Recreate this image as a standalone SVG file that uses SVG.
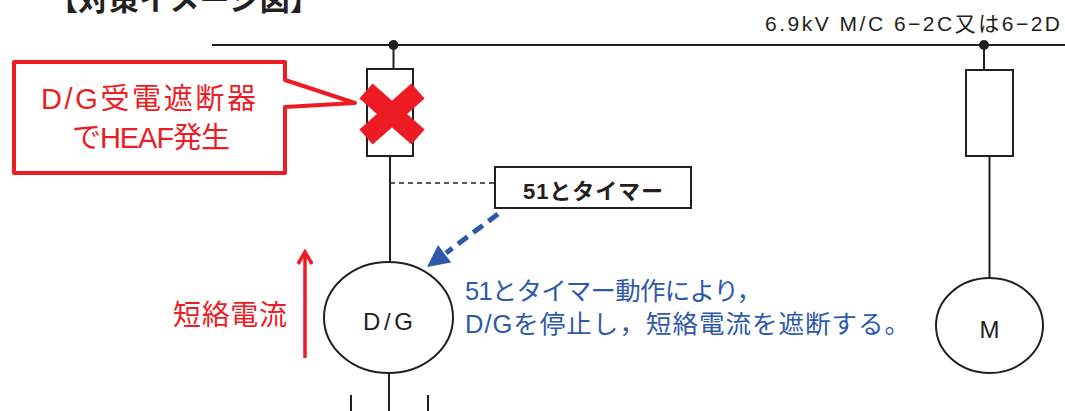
<svg xmlns="http://www.w3.org/2000/svg" width="1065" height="411" viewBox="0 0 1065 411">
<style>
.ln{stroke:#231f20;stroke-width:2;fill:none}
.box{stroke:#231f20;stroke-width:2;fill:#fff}
.t{font-family:"Liberation Sans","Noto Sans CJK JP",sans-serif}
.k{fill:#231f20}
.r{fill:#ed1c24}
.b{fill:#2e59a8}
</style>
<rect width="1065" height="411" fill="#fff"/>
<g id="title">
<text class="t k" x="48" y="10" font-size="30" font-weight="bold" textLength="272">【対策イメージ図】</text>
</g>
<g id="bus">
<line class="ln" x1="212" y1="45" x2="1065" y2="45"/>
<text class="t k" x="765" y="31" font-size="21" textLength="295">6.9kV M/C 6−2C又は6−2D</text>
</g>
<g id="connectors">
<circle cx="393.5" cy="45" r="5" fill="#231f20"/>
<circle cx="984" cy="45" r="5" fill="#231f20"/>
<line class="ln" x1="393.5" y1="45" x2="393.5" y2="70" stroke-width="2.5"/>
<line class="ln" x1="390" y1="156" x2="390" y2="262"/>
<line class="ln" x1="389" y1="373" x2="389" y2="411"/>
<line class="ln" x1="351" y1="395" x2="351" y2="411"/>
<line class="ln" x1="428" y1="395" x2="428" y2="411"/>
<line class="ln" x1="984" y1="45" x2="984" y2="70" stroke-width="2.5"/>
<line class="ln" x1="989.5" y1="156" x2="989.5" y2="278"/>
<line x1="390" y1="183" x2="495" y2="183" stroke="#231f20" stroke-width="1.5" stroke-dasharray="5,4"/>
<line x1="498" y1="214" x2="446" y2="253" stroke="#2e59a8" stroke-width="5" stroke-dasharray="12,7"/>
<polygon points="427,267 438,245 451.2,262.6" fill="#2e59a8"/>
<line x1="305" y1="358" x2="305" y2="253" stroke="#ed1c24" stroke-width="3.5"/>
<polyline points="298,264 305,252 312,264" fill="none" stroke="#ed1c24" stroke-width="3.5"/>
</g>
<g id="breaker-dg">
<rect class="box" x="367" y="69" width="46" height="87"/>
<line x1="366" y1="91" x2="418" y2="137" stroke="#ed1c24" stroke-width="20"/>
<line x1="418" y1="91" x2="366" y2="137" stroke="#ed1c24" stroke-width="20"/>
</g>
<g id="callout">
<path d="M14,62 H285 V80 L355,103 L285,107 V173 H14 Z" fill="#fff" stroke="#ed1c24" stroke-width="4" stroke-linejoin="round"/>
<text class="t r" x="41" y="109" font-size="29" textLength="215">D/G受電遮断器</text>
<text class="t r" x="72" y="148" font-size="29" textLength="158">でHEAF発生</text>
</g>
<g id="timer">
<rect class="box" x="495" y="167" width="196" height="41" stroke-width="1.5"/>
<text class="t k" x="523" y="199" font-size="22" font-weight="bold" textLength="140">51とタイマー</text>
</g>
<g id="dg">
<ellipse class="box" cx="388.5" cy="317.5" rx="64.5" ry="55.5"/>
<text class="t k" x="363" y="330" font-size="24" textLength="50">D/G</text>
</g>
<g id="breaker-m">
<rect class="box" x="966" y="70" width="47" height="86"/>
</g>
<g id="motor">
<ellipse class="box" cx="989.5" cy="325.5" rx="53.5" ry="47.5"/>
<text class="t k" x="989.5" y="338" font-size="24" text-anchor="middle">M</text>
</g>
<g id="labels">
<text class="t r" x="173" y="325" font-size="28" textLength="114">短絡電流</text>
<text class="t b" x="465" y="300" font-size="25.5" textLength="297">51とタイマー動作により，</text>
<text class="t b" x="465" y="333" font-size="25.5" textLength="445">D/Gを停止し，短絡電流を遮断する。</text>
</g>
</svg>
